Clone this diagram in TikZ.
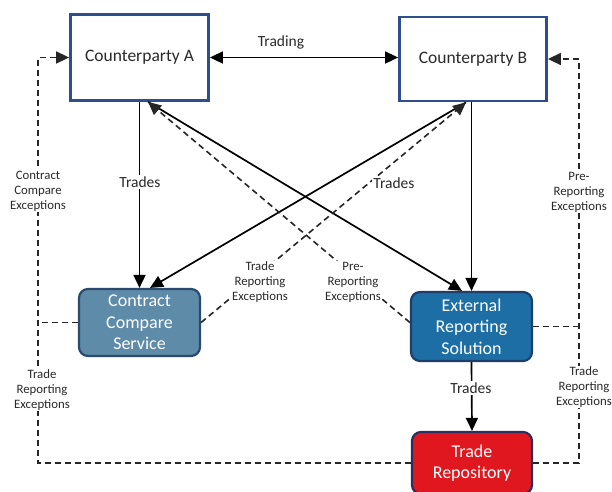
\documentclass[tikz,border=0pt]{standalone}
\usepackage{fontspec}
\setmainfont{Carlito}
\usetikzlibrary{arrows.meta}
\definecolor{cpline}{HTML}{2E4E8C}
\definecolor{txt}{HTML}{2A2A2A}
\definecolor{ccsfill}{HTML}{5E8BA8}
\definecolor{ccsline}{HTML}{2C4A6E}
\definecolor{ersfill}{HTML}{1C6EA4}
\definecolor{ersline}{HTML}{1F3F6A}
\definecolor{trfill}{HTML}{E0171E}
\definecolor{trline}{HTML}{2B2F5E}
\begin{document}
\begin{tikzpicture}[x=1pt,y=-1pt,
  cpbox/.style={draw=cpline, line width=2.8pt, fill=white, text=txt, inner sep=0pt,
    font=\fontsize{17.5}{21}\selectfont},
  svc/.style={line width=2.2pt, rounded corners=9pt, text=white, align=center, inner sep=0pt,
    font=\fontsize{18}{21.5}\selectfont},
  flow/.style={line width=1.7pt, draw=black},
  tip/.style={-{Triangle[length=13pt,width=12pt]}},
  exc/.style={line width=1.6pt, draw=black!85, dash pattern=on 6pt off 4pt},
  lbl/.style={fill=white, text=txt, inner sep=1.5pt, font=\fontsize{15.5}{18}\selectfont},
  elbl/.style={fill=white, text=txt, align=center, inner sep=1pt, font=\fontsize{12.8}{15}\selectfont}]
\useasboundingbox (0,0) rectangle (612,491);
\fill[white] (0,0) rectangle (612,491);

% boxes
\node[cpbox, minimum width=138pt, minimum height=86pt] (A) at (139.5,57.5) {Counterparty A};
\node[cpbox, minimum width=147pt, minimum height=84pt] (B) at (473,59) {Counterparty B};
\node[svc, fill=ccsfill, draw=ccsline, minimum width=121pt, minimum height=67pt] (C) at (139.5,322.5) {Contract\\Compare\\Service};
\node[svc, fill=ersfill, draw=ersline, minimum width=121pt, minimum height=69pt] (E) at (471.5,326.5) {External\\Reporting\\Solution};
\node[svc, fill=trfill, draw=trline, minimum width=120pt, minimum height=62pt] (T) at (472,463) {Trade\\Repository};

% anchor points
\coordinate (aIn) at ([xshift=8.5pt]A.south);
\coordinate (bIn) at ([xshift=-7pt]B.south);
\coordinate (cIn) at ([xshift=10.5pt]C.north);
\coordinate (eIn) at ([xshift=-9.5pt]E.north);
\coordinate (eW) at ([yshift=4pt]E.west);
\coordinate (LX) at (38,0);
\coordinate (RX) at (579,0);

% trading
\draw[flow, {Triangle[length=13pt,width=12pt]}-{Triangle[length=13pt,width=12pt]}] (A.east) -- (A.east -| B.west);
\node[lbl] at (281,42) {Trading};

% trades flows
\draw[flow, tip] (A.south) -- (C.north);
\draw[flow, tip] (E.north |- B.south) -- (E.north);
\draw[flow, tip] (aIn) -- (eIn);
\draw[flow, tip] (bIn) -- (cIn);
\draw[flow, tip] (E.south) -- (T.north);

% dashed exceptions
\draw[exc, tip] (eW) -- (aIn);
\draw[exc, tip] (C.east) -- (bIn);
\draw[exc, tip] (T.west) -- (T.west -| LX) |- (A.west);
\draw[exc] (C.west) -- (C.west -| LX);
\draw[exc, tip] (T.east) -- (T.east -| RX) |- (B.east);
\draw[exc] (E.east) -- (E.east -| RX);

% labels
\node[lbl] at (140,182) {Trades};
\node[lbl] at (394,183) {Trades};
\node[lbl] at (471,388) {Trades};
\node[elbl] at (260,282) {Trade\\Reporting\\Exceptions};
\node[elbl] at (353,282) {Pre-\\Reporting\\Exceptions};
\node[elbl] at (38,191) {Contract\\Compare\\Exceptions};
\node[elbl] at (42,390) {Trade\\Reporting\\Exceptions};
\node[elbl] at (579,192) {Pre-\\Reporting\\Exceptions};
\node[elbl] at (584,387) {Trade\\Reporting\\Exceptions};
\end{tikzpicture}
\end{document}
